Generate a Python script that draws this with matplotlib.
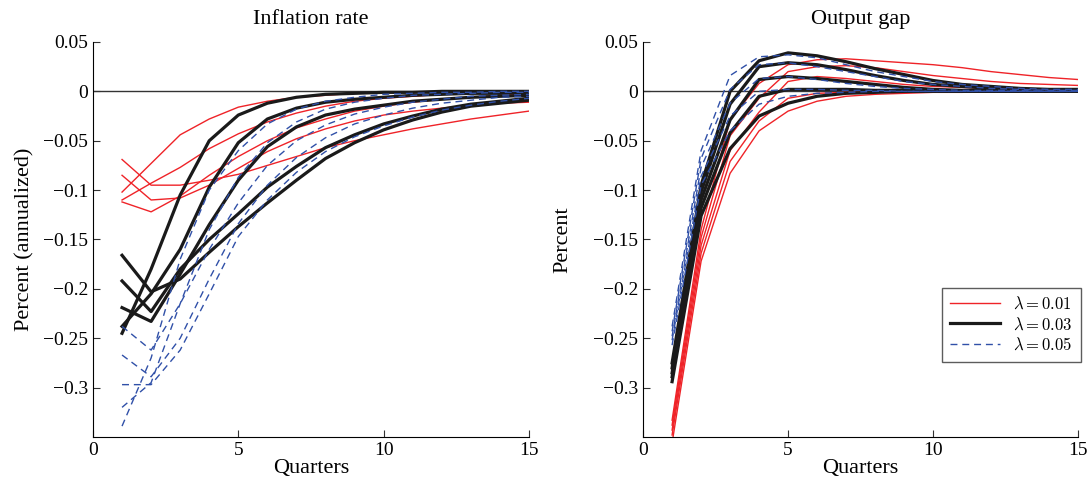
import numpy as np
import matplotlib
matplotlib.use("Agg")
import matplotlib.pyplot as plt
from matplotlib.ticker import FuncFormatter

# quarters after the shock
quarters = list(range(1, 16))
lambdas = ["0.01", "0.03", "0.05"]

# inflation rate responses, five runs per lambda
infl_l001 = [
    [-0.102, -0.073, -0.044, -0.028, -0.016, -0.010, -0.006, -0.004, -0.002, -0.001, -0.001, 0.0, 0.0, 0.0, 0.0],
    [-0.110, -0.093, -0.077, -0.058, -0.043, -0.031, -0.022, -0.015, -0.010, -0.007, -0.005, -0.003, -0.002, -0.001, -0.001],
    [-0.112, -0.122, -0.106, -0.085, -0.066, -0.050, -0.037, -0.028, -0.020, -0.015, -0.011, -0.008, -0.006, -0.004, -0.003],
    [-0.085, -0.110, -0.108, -0.095, -0.078, -0.061, -0.048, -0.038, -0.030, -0.024, -0.020, -0.017, -0.014, -0.012, -0.011],
    [-0.069, -0.095, -0.095, -0.090, -0.084, -0.075, -0.066, -0.057, -0.050, -0.044, -0.038, -0.033, -0.028, -0.024, -0.020],
]
infl_l003 = [
    [-0.245, -0.180, -0.105, -0.050, -0.024, -0.012, -0.006, -0.003, -0.002, -0.001, -0.001, 0.0, 0.0, 0.0, 0.0],
    [-0.238, -0.205, -0.160, -0.097, -0.052, -0.028, -0.017, -0.011, -0.008, -0.006, -0.004, -0.003, -0.002, -0.002, -0.001],
    [-0.219, -0.233, -0.185, -0.135, -0.090, -0.056, -0.036, -0.024, -0.018, -0.014, -0.010, -0.008, -0.006, -0.005, -0.004],
    [-0.192, -0.223, -0.180, -0.150, -0.124, -0.097, -0.076, -0.057, -0.044, -0.033, -0.025, -0.018, -0.013, -0.010, -0.007],
    [-0.166, -0.203, -0.190, -0.163, -0.137, -0.113, -0.090, -0.068, -0.052, -0.039, -0.029, -0.021, -0.015, -0.012, -0.009],
]
infl_l005 = [
    [-0.339, -0.270, -0.170, -0.100, -0.060, -0.033, -0.018, -0.010, -0.006, -0.003, -0.002, -0.001, -0.001, 0.0, 0.0],
    [-0.320, -0.295, -0.215, -0.140, -0.087, -0.052, -0.031, -0.018, -0.011, -0.007, -0.004, -0.003, -0.002, -0.001, -0.001],
    [-0.238, -0.262, -0.215, -0.160, -0.113, -0.075, -0.050, -0.034, -0.023, -0.016, -0.011, -0.008, -0.005, -0.004, -0.003],
    [-0.267, -0.289, -0.250, -0.190, -0.134, -0.095, -0.067, -0.047, -0.033, -0.024, -0.017, -0.012, -0.009, -0.006, -0.005],
    [-0.297, -0.297, -0.262, -0.205, -0.147, -0.110, -0.082, -0.061, -0.046, -0.035, -0.026, -0.019, -0.014, -0.010, -0.007],
]

# output gap responses
gap_l001 = [
    [-0.333, -0.140, -0.029, 0.008, 0.027, 0.032, 0.033, 0.031, 0.029, 0.027, 0.024, 0.020, 0.017, 0.014, 0.012],
    [-0.338, -0.148, -0.045, -0.007, 0.020, 0.025, 0.026, 0.024, 0.020, 0.016, 0.013, 0.010, 0.008, 0.007, 0.006],
    [-0.343, -0.156, -0.060, -0.021, 0.010, 0.015, 0.013, 0.010, 0.007, 0.005, 0.004, 0.003, 0.002, 0.002, 0.002],
    [-0.348, -0.164, -0.071, -0.030, -0.007, -0.002, -0.001, 0.0, 0.0, 0.0, 0.0, 0.0, 0.0, 0.0, 0.0],
    [-0.356, -0.172, -0.083, -0.040, -0.020, -0.010, -0.005, -0.003, -0.002, -0.001, -0.001, 0.0, 0.0, 0.0, 0.0],
]
gap_l003 = [
    [-0.275, -0.095, 0.000, 0.031, 0.039, 0.036, 0.030, 0.023, 0.017, 0.011, 0.007, 0.005, 0.003, 0.002, 0.002],
    [-0.280, -0.102, -0.013, 0.025, 0.029, 0.027, 0.022, 0.016, 0.011, 0.007, 0.005, 0.003, 0.002, 0.001, 0.001],
    [-0.285, -0.110, -0.029, 0.012, 0.015, 0.013, 0.010, 0.007, 0.004, 0.002, 0.001, 0.001, 0.001, 0.001, 0.001],
    [-0.289, -0.118, -0.042, -0.005, 0.002, 0.002, 0.002, 0.001, 0.001, 0.001, 0.0, 0.0, 0.0, 0.0, 0.0],
    [-0.294, -0.126, -0.058, -0.025, -0.012, -0.005, -0.002, -0.001, 0.0, 0.0, 0.0, 0.0, 0.0, 0.0, 0.0],
]
gap_l005 = [
    [-0.238, -0.060, 0.016, 0.035, 0.037, 0.034, 0.027, 0.020, 0.015, 0.010, 0.007, 0.005, 0.003, 0.002, 0.002],
    [-0.243, -0.068, 0.002, 0.027, 0.029, 0.025, 0.020, 0.015, 0.010, 0.007, 0.005, 0.003, 0.002, 0.001, 0.001],
    [-0.248, -0.077, -0.012, 0.013, 0.015, 0.012, 0.008, 0.005, 0.003, 0.002, 0.001, 0.001, 0.001, 0.0, 0.0],
    [-0.252, -0.086, -0.025, 0.000, 0.002, 0.002, 0.001, 0.001, 0.0, 0.0, 0.0, 0.0, 0.0, 0.0, 0.0],
    [-0.257, -0.095, -0.040, -0.013, -0.005, -0.002, -0.001, 0.0, 0.0, 0.0, 0.0, 0.0, 0.0, 0.0, 0.0],
]

yticks = [0.05, 0, -0.05, -0.1, -0.15, -0.2, -0.25, -0.3]
xticks = [0, 5, 10, 15]

plt.rcParams['font.family'] = ['Liberation Serif', 'DejaVu Serif']
plt.rcParams['mathtext.fontset'] = 'cm'

styles = [
    dict(color='#ef2328', lw=1.0, ls='-'),
    dict(color='#1a1a1a', lw=2.3, ls='-'),
    dict(color='#3050a8', lw=1.0, ls=(0, (5, 3.5))),
]


def fmt(v, pos):
    s = f"{round(v, 3):g}"
    return s.replace('-', '\u2212')


def draw_panel(ax, groups, title, ylabel, ypad):
    ax.axhline(0, color='#333333', lw=1.0, zorder=1)
    for grp, st, lam in zip(groups, styles, lambdas):
        for i, run in enumerate(grp):
            ax.plot(quarters, run, label=rf'$\lambda = {lam}$' if i == 0 else None,
                    zorder=2, **st)
    ax.set_xlim(0, 15)
    ax.set_ylim(-0.35, 0.05)
    ax.set_xticks(xticks)
    ax.set_yticks(yticks)
    ax.yaxis.set_major_formatter(FuncFormatter(fmt))
    ax.tick_params(direction='in', length=5, labelsize=14, color='#333333')
    ax.spines['top'].set_visible(False)
    ax.spines['right'].set_visible(False)
    ax.set_title(title, fontsize=16, pad=13)
    ax.set_xlabel('Quarters', fontsize=16, labelpad=0)
    ax.set_ylabel(ylabel, fontsize=16, labelpad=ypad)


fig = plt.figure(figsize=(10.9, 4.82), dpi=100)
ax1 = fig.add_axes([0.0853, 0.0934, 0.4, 0.8195])
ax2 = fig.add_axes([0.590, 0.0934, 0.399, 0.8195])

draw_panel(ax1, [infl_l001, infl_l003, infl_l005], 'Inflation rate', 'Percent (annualized)', 6)
draw_panel(ax2, [gap_l001, gap_l003, gap_l005], 'Output gap', 'Percent', 15)

leg = ax2.legend(loc='lower right', bbox_to_anchor=(1.026, 0.168), fontsize=12,
                 frameon=True, fancybox=False, handlelength=3.0, borderpad=0.5,
                 labelspacing=0.25)
leg.get_frame().set_edgecolor('#333333')
leg.get_frame().set_linewidth(1.0)

fig.savefig('out.png', dpi=100)
